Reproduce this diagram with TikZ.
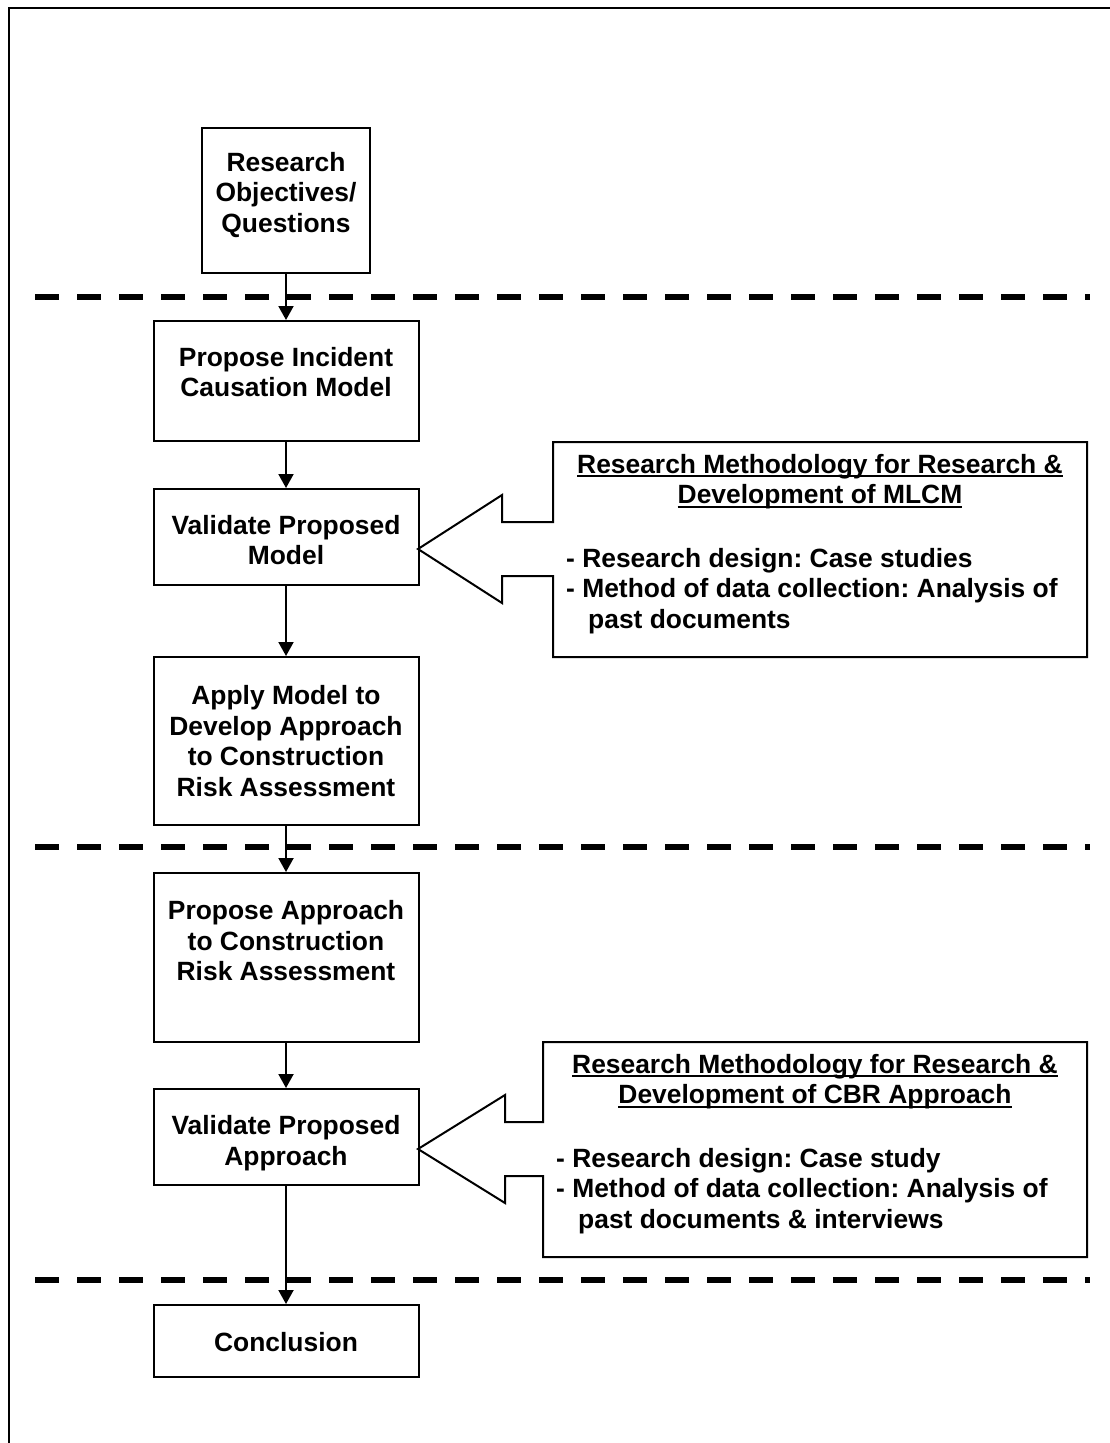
\documentclass[tikz,border=0pt]{standalone}
\usepackage{fontspec}
\setmainfont{Liberation Sans}
\usetikzlibrary{arrows.meta}
\frenchspacing
% underline that runs through descenders, as in a word processor
\newsavebox\ulbox
\newcommand\ulin[1]{\sbox\ulbox{#1}\rlap{\rule[-4pt]{\wd\ulbox}{2pt}}\usebox\ulbox}
\begin{document}
\begin{tikzpicture}[x=1pt,y=-1pt,
  every node/.style={font=\fontsize{26.4}{30.5}\selectfont\bfseries},
  stepbox/.style={draw,line width=2pt,minimum width=265pt,inner sep=0pt},
  txt/.style={align=center,inner sep=0pt},
  bullets/.style={align=left,inner sep=0pt,anchor=west},
  flow/.style={line width=2pt,-{Triangle[length=14pt,width=15pt]}},
  phase/.style={line width=6.5pt,dash pattern=on 24pt off 18pt},
  callout/.style={draw,line width=2pt,fill=white,line join=miter},
  frame/.style={line width=2.6pt}
]
\useasboundingbox (0,0) rectangle (1109,1443);

% page frame (left and top edges)
\draw[frame] (9,1460) -- (9,8) -- (1120,8);

% phase separators
\draw[phase] (35,297) -- (1090,297);
\draw[phase] (35,847) -- (1090,847);
\draw[phase] (35,1280) -- (1090,1280);

% process boxes
\node[stepbox,minimum width=168pt,minimum height=145pt] (b1) at (286,200.5) {};
\node[stepbox,minimum height=120pt] (b2) at (286,381) {};
\node[stepbox,minimum height=96pt]  (b3) at (286,537) {};
\node[stepbox,minimum height=168pt] (b4) at (286,741) {};
\node[stepbox,minimum height=169pt] (b5) at (286,957.5) {};
\node[stepbox,minimum height=96pt]  (b6) at (286,1137) {};
\node[stepbox,minimum height=72pt]  (b7) at (286,1341) {};

% box labels
\node[txt] (t1) at (286,195) {Research\\Objectives/\\Questions};
\node[txt] (t2) at (286,372) {Propose Incident\\Causation Model};
\node[txt] (t3) at (286,540) {Validate Proposed\\Model};
\node[txt] (t4) at (286,741) {Apply Model to\\Develop Approach\\to Construction\\Risk Assessment};
\node[txt] (t5) at (286,941) {Propose Approach\\to Construction\\Risk Assessment};
\node[txt] (t6) at (286,1143) {Validate Proposed\\Approach};
\node[txt] (t7) at (286,1342) {Conclusion};

% flow arrows
\draw[flow] (b1) -- (b2);
\draw[flow] (b2) -- (b3);
\draw[flow] (b3) -- (b4);
\draw[flow] (b4) -- (b5);
\draw[flow] (b5) -- (b6);
\draw[flow] (b6) -- (b7);

% methodology callouts
\draw[callout] (553,442) -- (1087,442) -- (1087,657) -- (553,657) -- (553,576)
  -- (502,576) -- (502,603) -- (418,549) -- (502,495) -- (502,522) -- (553,522) -- cycle;
\node[txt] (m1) at (820,481.5) {\ulin{Research Methodology for Research \&}\\\ulin{Development of MLCM}};
\node[bullets] (l1) at (566,591) {- Research design: Case studies\\- Method of data collection: Analysis of\\\hspace*{22pt}past documents};

\draw[callout] (543,1042) -- (1087,1042) -- (1087,1257) -- (543,1257) -- (543,1176)
  -- (505,1176) -- (505,1203) -- (418,1149) -- (505,1095) -- (505,1122) -- (543,1122) -- cycle;
\node[txt] (m2) at (815,1081.5) {\ulin{Research Methodology for Research \&}\\\ulin{Development of CBR Approach}};
\node[bullets] (l2) at (556,1191) {- Research design: Case study\\- Method of data collection: Analysis of\\\hspace*{22pt}past documents \& interviews};
\end{tikzpicture}
\end{document}
